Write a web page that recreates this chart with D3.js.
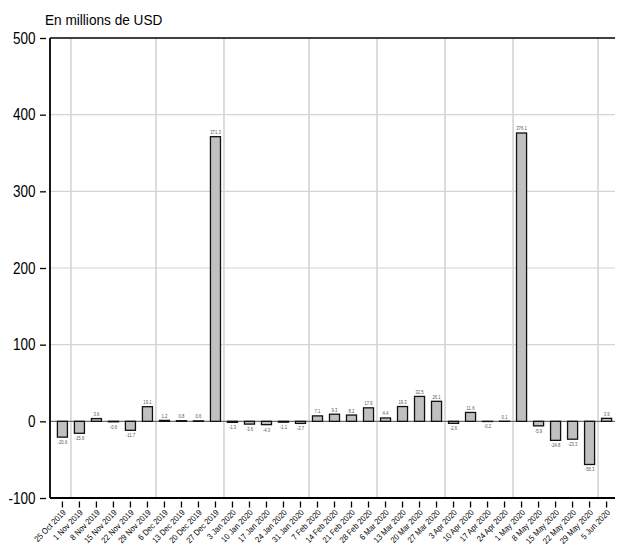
<!DOCTYPE html>
<html><head><meta charset="utf-8">
<script src="https://cdn.jsdelivr.net/npm/d3@7"></script>
<style>
body{margin:0;background:#fff;}
text{font-family:"Liberation Sans",Arial,sans-serif;}
</style></head><body>
<svg id="c" width="617" height="554"></svg>
<script>
const categories = ["25 Oct 2019","1 Nov 2019","8 Nov 2019","15 Nov 2019","22 Nov 2019","29 Nov 2019","6 Dec 2019","13 Dec 2019","20 Dec 2019","27 Dec 2019","3 Jan 2020","10 Jan 2020","17 Jan 2020","24 Jan 2020","31 Jan 2020","7 Feb 2020","14 Feb 2020","21 Feb 2020","28 Feb 2020","6 Mar 2020","13 Mar 2020","20 Mar 2020","27 Mar 2020","3 Apr 2020","10 Apr 2020","17 Apr 2020","24 Apr 2020","1 May 2020","8 May 2020","15 May 2020","22 May 2020","29 May 2020","5 Jun 2020"];
const values = [-20.6,-15.6,3.6,-0.6,-11.7,19.1,1.2,0.8,0.6,371.3,-1.3,-3.6,-4.3,-1.1,-2.7,7.1,9.3,8.2,17.6,4.4,19.3,32.5,26.1,-2.6,11.6,-0.2,0.1,376.1,-5.9,-24.8,-23.3,-56.3,3.9];
const yTicks = [-100,0,100,200,300,400,500];
const monthBreaks = ["1 Nov 2019","6 Dec 2019","3 Jan 2020","7 Feb 2020","6 Mar 2020","3 Apr 2020","1 May 2020","5 Jun 2020"];
const yTitle = "En millions de USD";

const svg = d3.select("#c");
const L = 50, R = 615, T = 38, B = 498;
const x = d3.scaleBand().domain(categories).range([54, 615]).paddingInner(0.41).paddingOuter(0.2);
const y = d3.scaleLinear().domain([-100, 500]).range([B, T]);
const cx = c => x(c) + x.bandwidth() / 2;

// horizontal grid
svg.append("g").selectAll("line").data(yTicks.filter(v => v > -100 && v < 500 && v !== 0)).join("line")
  .attr("x1", L).attr("x2", R).attr("y1", d => y(d)).attr("y2", d => y(d))
  .attr("stroke", "#d4d4d4").attr("stroke-width", 1.2);
// vertical month breaks
const step = x.step();
svg.append("g").selectAll("line").data(monthBreaks).join("line")
  .attr("x1", d => cx(d) - step/2).attr("x2", d => cx(d) - step/2)
  .attr("y1", T).attr("y2", B)
  .attr("stroke", "#d4d4d4").attr("stroke-width", 1.6);

// zero line
svg.append("line").attr("x1", L).attr("x2", R).attr("y1", y(0)).attr("y2", y(0))
  .attr("stroke", "#6e6e6e").attr("stroke-width", 1.4);

// bars
svg.append("g").selectAll("rect").data(values).join("rect")
  .attr("x", (d, i) => x(categories[i]))
  .attr("width", x.bandwidth())
  .attr("y", d => y(Math.max(0, d)))
  .attr("height", d => Math.abs(y(d) - y(0)))
  .attr("fill", "#c0c0c0").attr("stroke", "#111").attr("stroke-width", 1.3);

// bar labels
svg.append("g").selectAll("text").data(values).join("text")
  .attr("transform", (d, i) => `translate(${cx(categories[i])},${d >= 0 ? y(d) - 2.5 : y(d) + 7}) scale(0.85,1)`)
  .attr("text-anchor", "middle").attr("font-size", 5).attr("fill", "#555")
  .text(d => d3.format(".1f")(d).replace("−", "-"));

// frame
svg.append("line").attr("x1", L).attr("x2", R).attr("y1", T).attr("y2", T).attr("stroke", "#000").attr("stroke-width", 1.6);
svg.append("line").attr("x1", L).attr("x2", R).attr("y1", B).attr("y2", B).attr("stroke", "#000").attr("stroke-width", 1.8);
svg.append("line").attr("x1", L).attr("x2", L).attr("y1", T).attr("y2", B).attr("stroke", "#000").attr("stroke-width", 1.8);

// y axis ticks
const ya = svg.append("g").attr("transform", `translate(${L - 4},0)`)
  .call(d3.axisLeft(y).tickValues(yTicks).tickSize(6).tickFormat(""));
ya.select(".domain").remove();
ya.selectAll(".tick line").attr("stroke", "#000").attr("stroke-width", 1.3);
svg.append("g").selectAll("text").data(yTicks).join("text")
  .attr("transform", d => `translate(35.5,${y(d) + 5.5}) scale(0.82,1)`)
  .attr("text-anchor", "end").attr("font-size", 16.5).attr("fill", "#000")
  .text(d => String(d));

// x axis
const xa = svg.append("g").attr("transform", `translate(0,${B + 3.5})`)
  .call(d3.axisBottom(x).tickSize(6).tickFormat(""));
xa.select(".domain").remove();
xa.selectAll(".tick line").attr("stroke", "#000").attr("stroke-width", 1.3);
svg.append("g").selectAll("text").data(categories).join("text")
  .attr("transform", d => `translate(${cx(d) + 4},${B + 15}) rotate(-46) scale(0.9,1)`)
  .attr("text-anchor", "end").attr("font-size", 8.4).attr("fill", "#000")
  .text(d => d);

// title
svg.append("text").attr("transform", "translate(45,25) scale(0.88,1)")
  .attr("font-size", 15.5).attr("fill", "#000").text(yTitle);
</script>
</body></html>
